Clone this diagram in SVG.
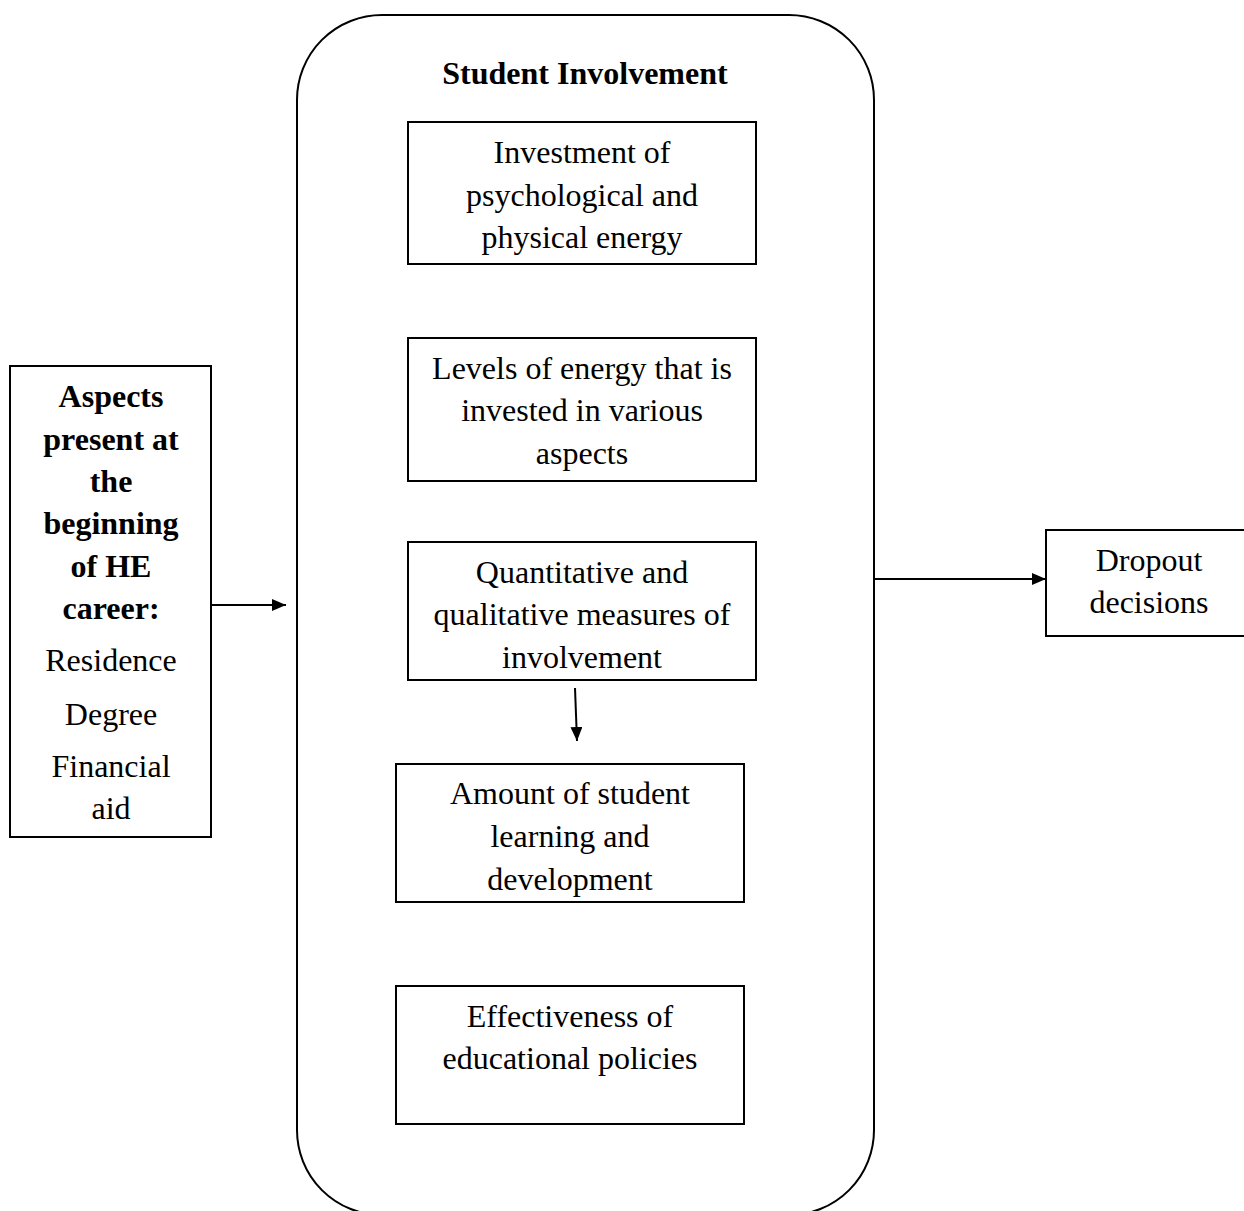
<svg xmlns="http://www.w3.org/2000/svg" width="1244" height="1211" viewBox="0 0 1244 1211">
  <style>
    .box { fill: #fff; stroke: #000; stroke-width: 2; }
    .frame { fill: none; stroke: #000; stroke-width: 2; }
    .t { font-family: "Liberation Serif", "Times New Roman", serif; font-size: 32px; fill: #000; text-anchor: middle; }
    .b { font-weight: bold; }
    .conn { stroke: #000; stroke-width: 2; fill: none; }
  </style>
  <defs>
    <marker id="arrow" viewBox="0 0 14 12" refX="14" refY="6" markerWidth="14" markerHeight="12" markerUnits="userSpaceOnUse" orient="auto">
      <path d="M0,0 L14,6 L0,12 Z" fill="#000"/>
    </marker>
    <clipPath id="clip-learning">
      <rect x="396" y="764" width="348" height="137"/>
    </clipPath>
  </defs>
  <rect width="1244" height="1211" fill="#fff"/>

  <!-- Student Involvement container -->
  <g id="student-involvement">
    <rect class="frame" x="297" y="15" width="577" height="1200" rx="85" ry="85"/>
    <text class="t b" x="585" y="84">Student Involvement</text>
  </g>

  <g id="investment">
    <rect class="box" x="408" y="122" width="348" height="142"/>
    <text class="t" x="582" y="163">Investment of</text>
    <text class="t" x="582" y="206">psychological and</text>
    <text class="t" x="582" y="248">physical energy</text>
  </g>

  <g id="levels">
    <rect class="box" x="408" y="338" width="348" height="143"/>
    <text class="t" x="582" y="379">Levels of energy that is</text>
    <text class="t" x="582" y="421">invested in various</text>
    <text class="t" x="582" y="464">aspects</text>
  </g>

  <g id="measures">
    <rect class="box" x="408" y="542" width="348" height="138"/>
    <text class="t" x="582" y="583">Quantitative and</text>
    <text class="t" x="582" y="625">qualitative measures of</text>
    <text class="t" x="582" y="668">involvement</text>
  </g>

  <g id="learning">
    <rect class="box" x="396" y="764" width="348" height="138"/>
    <g clip-path="url(#clip-learning)">
      <text class="t" x="570" y="804">Amount of student</text>
      <text class="t" x="570" y="847">learning and</text>
      <text class="t" x="570" y="890">development</text>
    </g>
    <line class="conn" x1="396" y1="902" x2="744" y2="902"/>
  </g>

  <g id="effectiveness">
    <rect class="box" x="396" y="986" width="348" height="138"/>
    <text class="t" x="570" y="1027">Effectiveness of</text>
    <text class="t" x="570" y="1069">educational policies</text>
  </g>

  <g id="aspects">
    <rect class="box" x="10" y="366" width="201" height="471"/>
    <text class="t b" x="111" y="407">Aspects</text>
    <text class="t b" x="111" y="450">present at</text>
    <text class="t b" x="111" y="492">the</text>
    <text class="t b" x="111" y="534">beginning</text>
    <text class="t b" x="111" y="577">of HE</text>
    <text class="t b" x="111" y="619">career:</text>
    <text class="t" x="111" y="671">Residence</text>
    <text class="t" x="111" y="725">Degree</text>
    <text class="t" x="111" y="777">Financial</text>
    <text class="t" x="111" y="819">aid</text>
  </g>

  <g id="dropout">
    <rect class="box" x="1046" y="530" width="210" height="106"/>
    <text class="t" x="1149" y="571">Dropout</text>
    <text class="t" x="1149" y="613">decisions</text>
  </g>

  <g id="connectors">
    <line class="conn" x1="211" y1="605" x2="286" y2="605" marker-end="url(#arrow)"/>
    <line class="conn" x1="575" y1="688" x2="577" y2="741" marker-end="url(#arrow)"/>
    <line class="conn" x1="874" y1="579" x2="1046" y2="579" marker-end="url(#arrow)"/>
  </g>
</svg>
